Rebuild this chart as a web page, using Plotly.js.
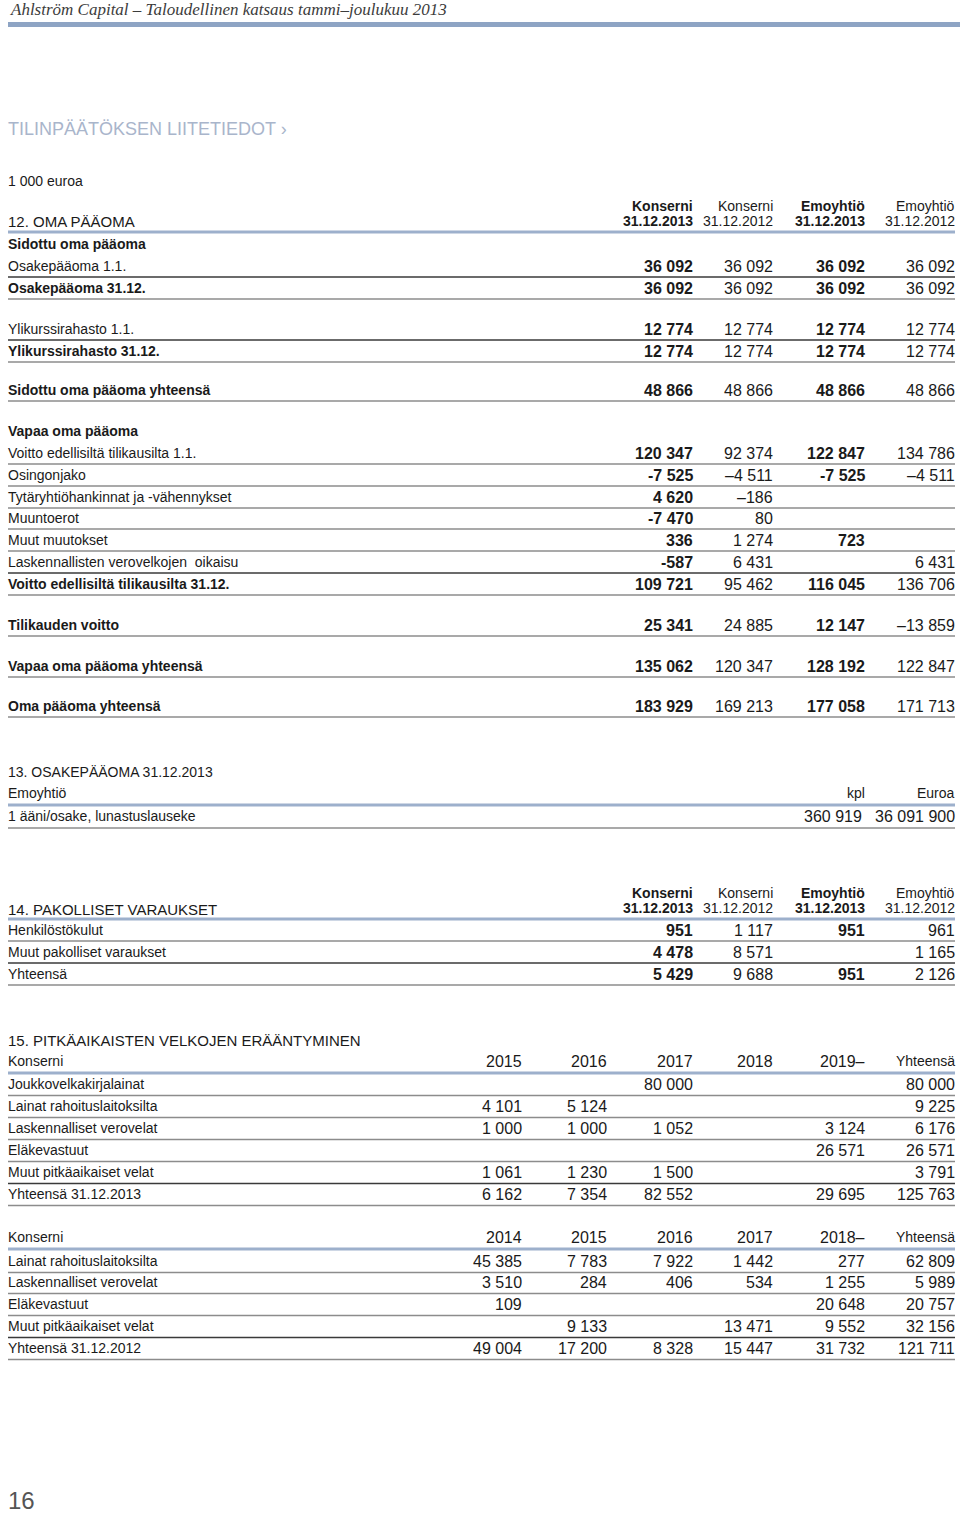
<!DOCTYPE html>
<html>
<head>
<meta charset="utf-8">
<script src="https://cdn.plot.ly/plotly-3.0.1.min.js"></script>
<style>
  body { margin: 0; background: #fff; }
  #page { width: 960px; height: 1515px; }
</style>
</head>
<body>
<div id="page"></div>
<script>
// --- 12. Oma pääoma ---
const heads12 = ["Konserni", "Konserni", "Emoyhtiö", "Emoyhtiö"];
const dates12 = ["31.12.2013", "31.12.2012", "31.12.2013", "31.12.2012"];
const labels12 = [
    "Sidottu oma pääoma", "Osakepääoma 1.1.", "Osakepääoma 31.12.",
    "Ylikurssirahasto 1.1.", "Ylikurssirahasto 31.12.", "Sidottu oma pääoma yhteensä",
    "Vapaa oma pääoma", "Voitto edellisiltä tilikausilta 1.1.", "Osingonjako",
    "Tytäryhtiöhankinnat ja -vähennykset", "Muuntoerot", "Muut muutokset",
    "Laskennallisten verovelkojen  oikaisu", "Voitto edellisiltä tilikausilta 31.12.",
    "Tilikauden voitto", "Vapaa oma pääoma yhteensä", "Oma pääoma yhteensä"
];
const konserni2013 = [null, 36092, 36092, 12774, 12774, 48866, null, 120347, -7525, 4620, -7470, 336, -587, 109721, 25341, 135062, 183929];
const konserni2012 = [null, 36092, 36092, 12774, 12774, 48866, null, 92374, -4511, -186, 80, 1274, 6431, 95462, 24885, 120347, 169213];
const emo2013 = [null, 36092, 36092, 12774, 12774, 48866, null, 122847, -7525, null, null, 723, null, 116045, 12147, 128192, 177058];
const emo2012 = [null, 36092, 36092, 12774, 12774, 48866, null, 134786, -4511, null, null, null, 6431, 136706, -13859, 122847, 171713];

// --- 13. Osakepääoma ---
const label13 = "1 ääni/osake, lunastuslauseke";
const kpl13 = 360919;
const euroa13 = 36091900;

// --- 14. Pakolliset varaukset ---
const labels14 = ["Henkilöstökulut", "Muut pakolliset varaukset", "Yhteensä"];
const k2013_14 = [951, 4478, 5429];
const k2012_14 = [1117, 8571, 9688];
const e2013_14 = [951, null, 951];
const e2012_14 = [961, 1165, 2126];

// --- 15. Pitkäaikaisten velkojen erääntyminen ---
const years2013 = ["2015", "2016", "2017", "2018", "2019–", "Yhteensä"];
const labels2013 = ["Joukkovelkakirjalainat", "Lainat rahoituslaitoksilta", "Laskennalliset verovelat",
    "Eläkevastuut", "Muut pitkäaikaiset velat", "Yhteensä 31.12.2013"];
const joukko13 = [null, null, 80000, null, null, 80000];
const lainat13 = [4101, 5124, null, null, null, 9225];
const laskvero13 = [1000, 1000, 1052, null, 3124, 6176];
const elake13 = [null, null, null, null, 26571, 26571];
const muut13 = [1061, 1230, 1500, null, null, 3791];
const yht13 = [6162, 7354, 82552, null, 29695, 125763];

const years2012 = ["2014", "2015", "2016", "2017", "2018–", "Yhteensä"];
const labels2012 = ["Lainat rahoituslaitoksilta", "Laskennalliset verovelat", "Eläkevastuut",
    "Muut pitkäaikaiset velat", "Yhteensä 31.12.2012"];
const lainat12 = [45385, 7783, 7922, 1442, 277, 62809];
const laskvero12 = [3510, 284, 406, 534, 1255, 5989];
const elake12 = [109, null, null, null, 20648, 20757];
const muut12 = [null, 9133, null, 13471, 9552, 32156];
const yht12 = [49004, 17200, 8328, 15447, 31732, 121711];

// Layout (pixel positions on the page axes)
const FONT = "Liberation Sans, Arial, sans-serif";
const INK = "#1a1a1a";
const LEFT = 8, RIGHT = 955;
const cols4 = [693, 773, 865, 955];
const cols6 = [522, 607, 693, 773, 865, 955];

const ann = [];
const shp = [];

function txt(x, y, s, opt) {
    opt = opt || {};
    ann.push({
        x: x, y: y, xref: "x", yref: "y", text: s, showarrow: false,
        xanchor: opt.anchor || "left", yanchor: "middle",
        borderpad: 0, borderwidth: 0,
        font: {family: opt.family || FONT, size: opt.size || 14, color: opt.color || INK}
    });
}

function rule(y, kind) {
    const style = {
        blue: {color: "#9db0cc", width: 3},
        dark: {color: "#3a3a3a", width: 1.5},
        gray: {color: "#8c8c8c", width: 1.5}
    }[kind];
    if (!style) return;
    shp.push({type: "line", xref: "x", yref: "y", x0: LEFT, x1: RIGHT, y0: y, y1: y, line: style});
}

function fmt(v, dash) {
    if (v === null || v === undefined) return "";
    const s = Math.abs(v).toString().replace(/\B(?=(\d{3})+(?!\d))/g, " ");
    return (v < 0 ? dash : "") + s;
}

// page header
txt(10, 9, "<i>Ahlström Capital – Taloudellinen katsaus tammi–joulukuu 2013</i>",
    {family: "Liberation Serif, serif", size: 17, color: "#3c3c3c"});
shp.push({type: "rect", xref: "x", yref: "y", x0: LEFT, x1: 960, y0: 22, y1: 27,
    fillcolor: "#8ea4c4", line: {width: 0}});
txt(LEFT, 129, "TILINPÄÄTÖKSEN LIITETIEDOT ›", {size: 18, color: "#a9b5cb"});
txt(LEFT, 181, "1 000 euroa");

// 12
txt(LEFT, 221, "12. OMA PÄÄOMA", {size: 15});
heads12.forEach((h, i) => {
    const b = i % 2 === 0;
    txt(cols4[i], 206, b ? "<b>" + h + "</b>" : h, {anchor: "right"});
    txt(cols4[i], 221, b ? "<b>" + dates12[i] + "</b>" : dates12[i], {anchor: "right"});
});
rule(232, "blue");
const rows12 = [244, 266, 288, 329, 351, 390, 431, 453, 475, 497, 518, 540, 562, 584, 625, 666, 706];
const bold12 = [1, 0, 1, 0, 1, 1, 1, 0, 0, 0, 0, 0, 0, 1, 1, 1, 1];
const line12 = ["", "dark", "gray", "dark", "gray", "gray", "", "gray", "gray", "gray", "gray", "gray", "dark", "gray", "gray", "gray", "gray"];
const series12 = [konserni2013, konserni2012, emo2013, emo2012];
labels12.forEach((lab, r) => {
    const y = rows12[r];
    txt(LEFT, y, bold12[r] ? "<b>" + lab + "</b>" : lab);
    series12.forEach((ser, c) => {
        const b = c % 2 === 0;
        const s = fmt(ser[r], b ? "-" : "–");
        if (s) txt(cols4[c], y, b ? "<b>" + s + "</b>" : s, {anchor: "right", size: 16});
    });
    rule(y + 11, line12[r]);
});

// 13
txt(LEFT, 772, "13. OSAKEPÄÄOMA 31.12.2013");
txt(LEFT, 793, "Emoyhtiö");
txt(865, 793, "kpl", {anchor: "right"});
txt(RIGHT, 793, "Euroa", {anchor: "right"});
rule(805, "blue");
txt(LEFT, 816, label13);
txt(862, 816, fmt(kpl13), {anchor: "right", size: 16});
txt(RIGHT, 816, fmt(euroa13), {anchor: "right", size: 16});
rule(828, "gray");

// 14
txt(LEFT, 909, "14. PAKOLLISET VARAUKSET", {size: 15});
heads12.forEach((h, i) => {
    const b = i % 2 === 0;
    txt(cols4[i], 893, b ? "<b>" + h + "</b>" : h, {anchor: "right"});
    txt(cols4[i], 908, b ? "<b>" + dates12[i] + "</b>" : dates12[i], {anchor: "right"});
});
rule(919, "blue");
const rows14 = [930, 952, 974];
const line14 = ["gray", "dark", "gray"];
const series14 = [k2013_14, k2012_14, e2013_14, e2012_14];
labels14.forEach((lab, r) => {
    const y = rows14[r];
    txt(LEFT, y, lab);
    series14.forEach((ser, c) => {
        const s = fmt(ser[r], "–");
        if (s) txt(cols4[c], y, c % 2 === 0 ? "<b>" + s + "</b>" : s, {anchor: "right", size: 16});
    });
    rule(y + 11, line14[r]);
});

// 15
txt(LEFT, 1040, "15. PITKÄAIKAISTEN VELKOJEN ERÄÄNTYMINEN", {size: 15});

function debtTable(yHead, years, labels, series, rows, lines) {
    txt(LEFT, yHead, "Konserni");
    years.forEach((yr, i) => txt(cols6[i], yHead, yr, {anchor: "right", size: i === 5 ? 14 : 16}));
    rule(yHead + 12, "blue");
    labels.forEach((lab, r) => {
        const y = rows[r];
        txt(LEFT, y, lab);
        series[r].forEach((v, c) => {
            const s = fmt(v, "–");
            if (s) txt(cols6[c], y, s, {anchor: "right", size: 16});
        });
        rule(y + 11.5, lines[r]);
    });
}

debtTable(1061, years2013, labels2013,
    [joukko13, lainat13, laskvero13, elake13, muut13, yht13],
    [1084, 1106, 1128, 1150, 1172, 1194],
    ["gray", "gray", "gray", "gray", "dark", "gray"]);

debtTable(1237, years2012, labels2012,
    [lainat12, laskvero12, elake12, muut12, yht12],
    [1261, 1282, 1304, 1326, 1348],
    ["gray", "gray", "gray", "dark", "gray"]);

// page number
txt(LEFT, 1500, "16", {size: 24, color: "#555555"});

const layout = {
    width: 960,
    height: 1515,
    margin: {l: 0, r: 0, t: 0, b: 0},
    paper_bgcolor: "#ffffff",
    plot_bgcolor: "#ffffff",
    showlegend: false,
    xaxis: {range: [0, 960], visible: false, fixedrange: true},
    yaxis: {range: [1515, 0], visible: false, fixedrange: true},
    annotations: ann,
    shapes: shp
};

Plotly.newPlot("page", [{x: [], y: [], type: "scatter", mode: "markers"}], layout,
    {staticPlot: true, displayModeBar: false});
</script>
</body>
</html>
